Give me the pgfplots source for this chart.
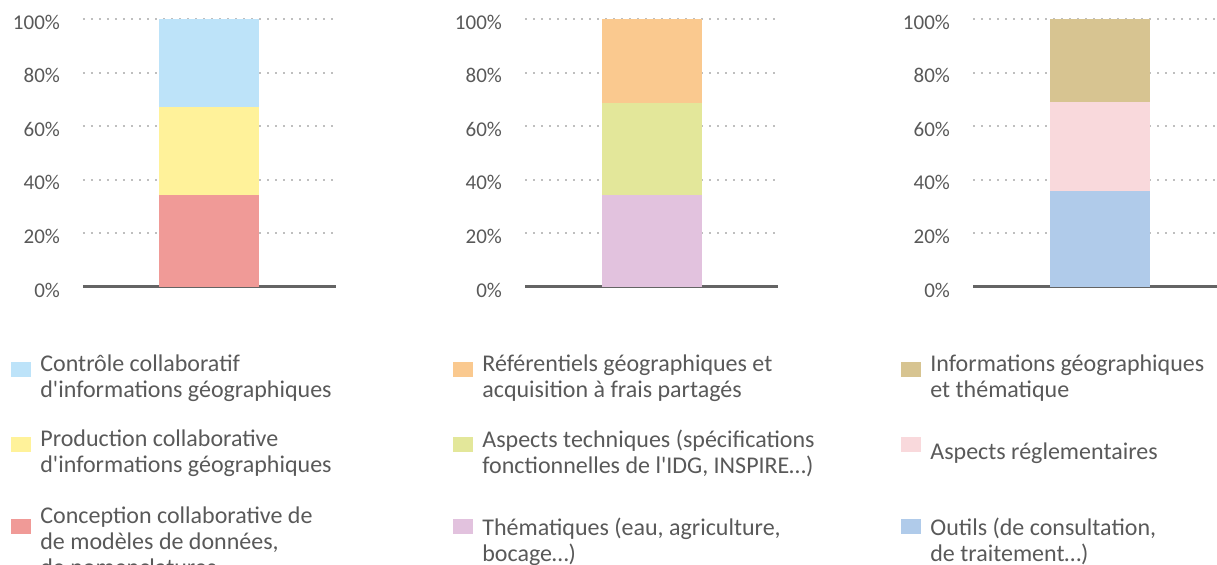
\documentclass[border=0pt]{standalone}
\usepackage{pgfplots}
\pgfplotsset{compat=1.18}
\usepackage{fontspec}
\setmainfont{Carlito}
\definecolor{txt}{HTML}{595959}
\definecolor{basec}{HTML}{646464}
\definecolor{gridc}{HTML}{BFBFBF}
\definecolor{cA1}{HTML}{F09A97}
\definecolor{cA2}{HTML}{FFF29A}
\definecolor{cA3}{HTML}{BDE3F9}
\definecolor{cB1}{HTML}{E2C2DE}
\definecolor{cB2}{HTML}{E3E79A}
\definecolor{cB3}{HTML}{FAC98F}
\definecolor{cC1}{HTML}{B0CBEA}
\definecolor{cC2}{HTML}{F9D9DC}
\definecolor{cC3}{HTML}{D7C491}
\newcommand{\lent}[2]{\hspace*{4.5pt}\parbox[c][#1][c]{200pt}{\raggedright #2}}
\pgfplotsset{panel/.style={
  scale only axis, width=126.5pt, height=134pt, anchor=south west,
  xmin=-1, xmax=1, ymin=0, ymax=100,
  ybar stacked, bar width=50pt,
  xtick=\empty, ytick={0,20,...,100},
  axis lines=left, x axis line style={draw=none,-}, y axis line style={draw=none,-},
  major tick length=0pt,
  ymajorgrids, grid style={gridc, line width=1pt, dash pattern=on 1pt off 3pt},
  /pgf/number format/assume math mode=true,
  yticklabel={\pgfmathprintnumber{\tick}\%},
  yticklabel style={font=\fontsize{10.5}{12}\selectfont, text=txt, xshift=-8pt, yshift=-1.5pt},
  reverse legend,
  legend image code/.code={\fill[##1] (0pt,-3.75pt) rectangle (10pt,3.75pt);},
  legend style={at={(-0.2846,-0.2425)}, anchor=north west, draw=none, fill=none,
    inner sep=0pt, row sep=20pt, column sep=0pt, cells={anchor=west},
    nodes={inner sep=0pt, text=txt, font=\fontsize{12}{13}\selectfont}},
}}
\begin{document}
\begin{tikzpicture}
\useasboundingbox (0,0) rectangle (608.5pt,-282pt);
\begin{axis}[panel, at={(41.5pt,-143.5pt)}]
\addplot[fill=cA1, draw=none] coordinates {(0,34.3)};
\addlegendentry{\lent{39pt}{Conception collaborative de\newline de modèles de données,\newline de nomenclatures}}
\addplot[fill=cA2, draw=none] coordinates {(0,32.9)};
\addlegendentry{\lent{26pt}{Production collaborative\newline d\textquotesingle informations géographiques}}
\addplot[fill=cA3, draw=none] coordinates {(0,32.8)};
\addlegendentry{\lent{26pt}{Contrôle collaboratif\newline d\textquotesingle informations géographiques}}
\draw[basec, line width=1.75pt] (rel axis cs:0,0) -- (rel axis cs:1,0);
\end{axis}
\begin{axis}[panel, at={(262.5pt,-143.5pt)}]
\addplot[fill=cB1, draw=none] coordinates {(0,34.2)};
\addlegendentry{\lent{39pt}{Thématiques (eau, agriculture,\newline bocage…)}}
\addplot[fill=cB2, draw=none] coordinates {(0,34.3)};
\addlegendentry{\lent{26pt}{Aspects techniques (spécifications\newline fonctionnelles de l\textquotesingle IDG, INSPIRE…)}}
\addplot[fill=cB3, draw=none] coordinates {(0,31.5)};
\addlegendentry{\lent{26pt}{Référentiels géographiques et\newline acquisition à frais partagés}}
\draw[basec, line width=1.75pt] (rel axis cs:0,0) -- (rel axis cs:1,0);
\end{axis}
\begin{axis}[panel, at={(486.5pt,-143.5pt)}]
\addplot[fill=cC1, draw=none] coordinates {(0,35.8)};
\addlegendentry{\lent{39pt}{Outils (de consultation,\newline de traitement…)}}
\addplot[fill=cC2, draw=none] coordinates {(0,33.2)};
\addlegendentry{\lent{26pt}{Aspects réglementaires}}
\addplot[fill=cC3, draw=none] coordinates {(0,31.0)};
\addlegendentry{\lent{26pt}{Informations géographiques\newline et thématique}}
\draw[basec, line width=1.75pt] (rel axis cs:0,0) -- (rel axis cs:1,0);
\end{axis}
\end{tikzpicture}
\end{document}
